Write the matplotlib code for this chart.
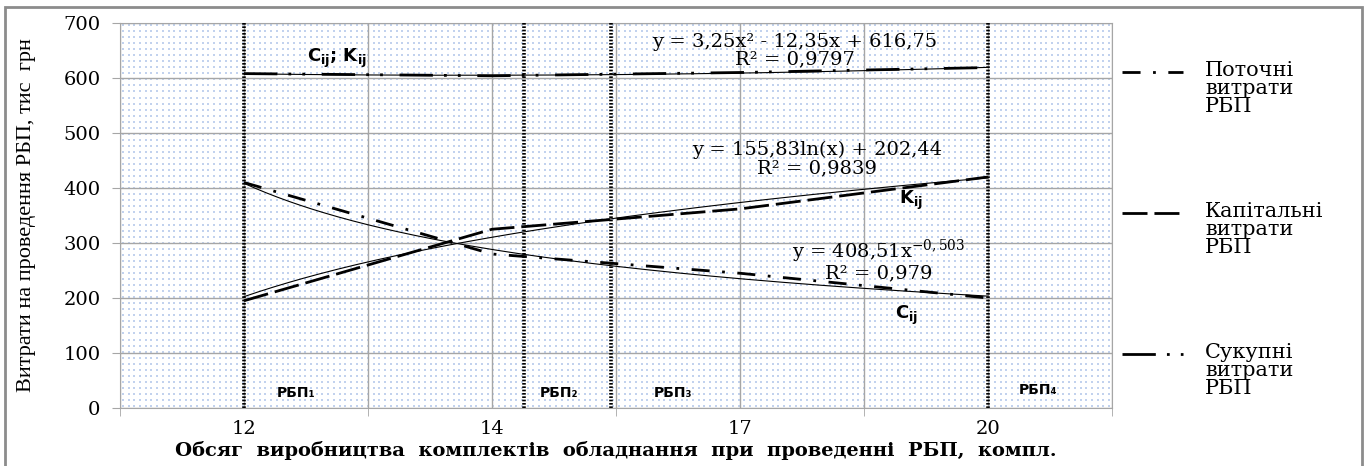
import numpy as np
import matplotlib
matplotlib.use('Agg')
import matplotlib.pyplot as plt
from matplotlib.lines import Line2D
from matplotlib.patches import Rectangle

plt.rcParams['lines.scale_dashes'] = False

# data
categories = ['12', '14', '17', '20']
current = [410, 280, 245, 200]      # Поточні витрати
capital = [195, 325, 362, 420]      # Капітальні витрати
total = [608, 604, 610, 619]        # Сукупні витрати
rbp_bounds = [0, 1.13, 1.48, 3]     # boundaries of the РБП zones (category units)
rbp_labels = ['РБП₁', 'РБП₂', 'РБП₃', 'РБП₄']

# trendline coefficients shown on the chart
pow_a, pow_b = 408.51, -0.503
log_a, log_b = 155.83, 202.44
poly = [3.25, -12.35, 616.75]

ink = 'black'
grid_c = '#a6a6a6'
serif = 'DejaVu Serif'

fig = plt.figure(figsize=(13.68, 4.66), dpi=100)
ax = fig.add_axes([120 / 1368, 1 - 408 / 466, 992 / 1368, 385 / 466])

x = np.arange(len(categories))

# dotted background fill
gx, gy = np.meshgrid(np.linspace(0.003, 0.997, 174), np.linspace(0.005, 0.995, 64))
ax.scatter(gx.ravel(), gy.ravel(), s=0.8, marker='s', color='#c2d2ee',
           linewidths=0, transform=ax.transAxes, zorder=0)

# series
ax.plot(x, current, color=ink, lw=2.0, dashes=(13, 9, 2, 9), zorder=4)
ax.plot(x, capital, color=ink, lw=2.0, dashes=(18, 5), zorder=4)
ax.plot(x, total, color=ink, lw=2.0, dashes=(24, 8, 2, 8, 2, 12), zorder=4)

# trendlines (x = 1..4 in Excel terms)
xt = np.linspace(1, 4, 200)
ax.plot(xt - 1, pow_a * xt ** pow_b, color=ink, lw=0.8, zorder=3)
ax.plot(xt - 1, log_a * np.log(xt) + log_b, color=ink, lw=0.8, zorder=3)
ax.plot(xt - 1, np.polyval(poly, xt), color=ink, lw=0.8, zorder=3)

# zone boundaries
for b in rbp_bounds:
    ax.axvline(b, color=ink, lw=2.6, linestyle=(0, (1.2, 1.2)), zorder=5)

ax.set_xlim(-0.5, 3.5)
ax.set_ylim(0, 700)
ax.set_yticks(range(0, 701, 100))
ax.set_xticks(x)
ax.set_xticklabels(categories, fontfamily=serif, fontsize=14)
ax.set_xticks(np.arange(-0.5, 3.6, 1), minor=True)
ax.tick_params(axis='x', which='major', length=0, pad=9)
ax.tick_params(axis='x', which='minor', length=6, color=grid_c)
ax.tick_params(axis='y', length=6, color=grid_c, pad=8, labelsize=14)
for lab in ax.get_yticklabels():
    lab.set_fontfamily(serif)

ax.set_axisbelow(True)
ax.grid(True, which='major', axis='y', color=grid_c, lw=1)
ax.grid(True, which='both', axis='x', color=grid_c, lw=1)
for s in ax.spines.values():
    s.set_color(grid_c)

# annotations
bold_sans = dict(fontsize=13, math_fontfamily='dejavusans', ha='center', va='center', zorder=6)
ax.text(0.375, 635, r'$\mathbf{C_{ij}}$; $\mathbf{K_{ij}}$', fontweight='bold', **bold_sans)
ax.text(2.69, 378, r'$\mathbf{K_{ij}}$', **bold_sans)
ax.text(2.67, 169, r'$\mathbf{C_{ij}}$', **bold_sans)

eq = dict(fontsize=14, family=serif, math_fontfamily='dejavuserif', ha='center', va='center', zorder=6)
ax.text(2.22, 665, 'y = 3,25x² - 12,35x + 616,75', **eq)
ax.text(2.22, 633, 'R² = 0,9797', **eq)
ax.text(2.31, 469, 'y = 155,83ln(x) + 202,44', **eq)
ax.text(2.31, 436, 'R² = 0,9839', **eq)
ax.text(2.56, 284, r'y = 408,51x$^{\mathrm{-0,503}}$', **eq)
ax.text(2.56, 245, 'R² = 0,979', **eq)

rbp_pos = [(0.21, 27), (1.27, 27), (1.73, 27), (3.2, 33)]
for (px, py), lab in zip(rbp_pos, rbp_labels):
    ax.text(px, py, lab, fontsize=10, fontweight='bold', family='DejaVu Sans',
            ha='center', va='center', zorder=6)

# axis titles
fig.text(27 / 1368, 1 - 215 / 466, 'Витрати на проведення РБП, тис  грн', rotation=90,
         family='Liberation Serif', fontsize=16, ha='center', va='center')
fig.text(616 / 1368, 1 - 450 / 466,
         'Обсяг  виробництва  комплектів  обладнання  при  проведенні  РБП,  компл.',
         family=serif, fontweight='bold', fontsize=14, ha='center', va='center')

# legend drawn at the right side
leg_names = ['Поточні\nвитрати\nРБП', 'Капітальні\nвитрати\nРБП', 'Сукупні\nвитрати\nРБП']
leg_dashes = [(13, 9, 2, 9), (18, 5), (24, 8, 2, 8, 2, 12)]
for i, (name, d) in enumerate(zip(leg_names, leg_dashes)):
    yy = 1 - (72 + 141 * i) / 466
    fig.add_artist(Line2D([1122 / 1368, 1183 / 1368], [yy, yy], color=ink, lw=2.0, dashes=d))
    fig.text(1205 / 1368, yy + 11 / 466, name, family=serif, fontsize=15,
             ha='left', va='top', linespacing=0.92)

# outer frame
fig.add_artist(Rectangle((5 / 1368, -0.01), 1357 / 1368, 1 - 7 / 466 + 0.01,
                         fill=False, edgecolor='#8c8c8c', lw=2, transform=fig.transFigure))

fig.savefig('out.png', dpi=100)
